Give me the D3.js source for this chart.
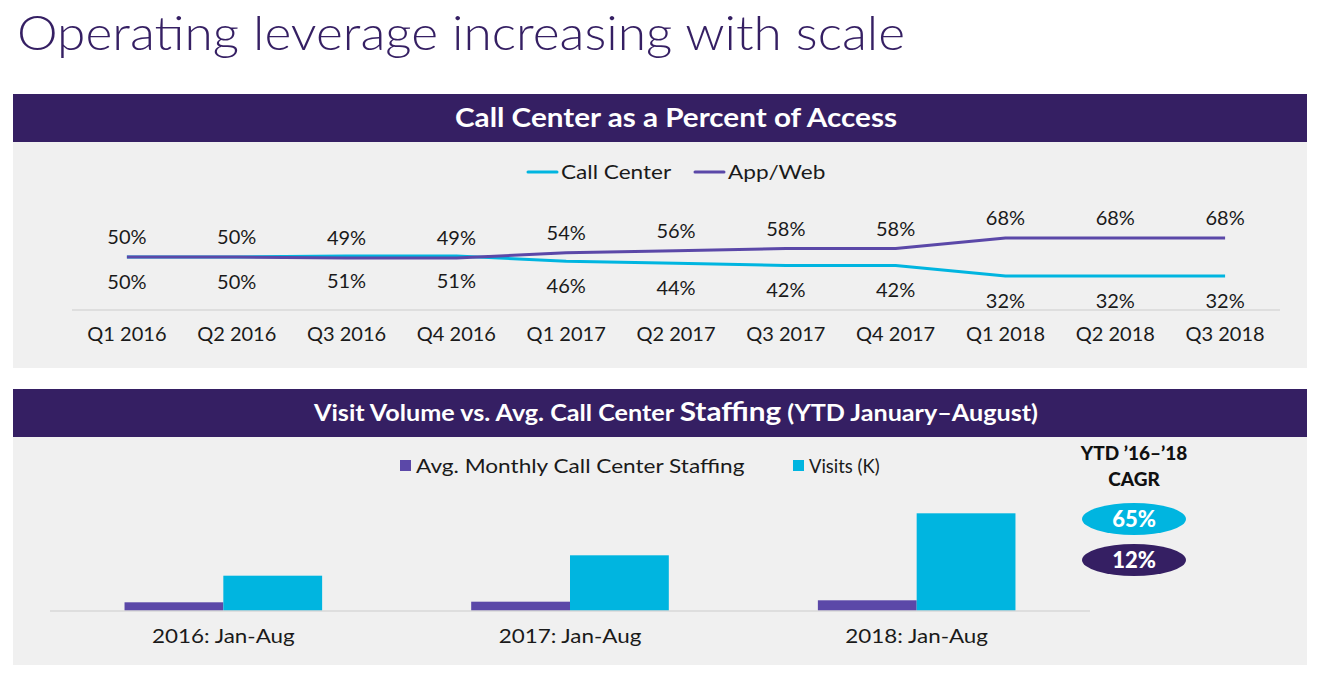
<!DOCTYPE html>
<html>
<head>
<meta charset="utf-8">
<script src="https://cdn.jsdelivr.net/npm/d3@7"></script>
<style>
  html, body { margin: 0; padding: 0; background: #ffffff; }
  svg { display: block; }
  text { font-family: Lato, "Open Sans", sans-serif; }
</style>
</head>
<body>
<svg id="chart" width="1320" height="675"></svg>
<script>
// ---- Data ----
const quarters = ["Q1 2016","Q2 2016","Q3 2016","Q4 2016","Q1 2017","Q2 2017","Q3 2017","Q4 2017","Q1 2018","Q2 2018","Q3 2018"];
const callCenter = [50,50,51,51,46,44,42,42,32,32,32];
const appWeb = [50,50,49,49,54,56,58,58,68,68,68];

const years = ["2016: Jan-Aug","2017: Jan-Aug","2018: Jan-Aug"];
const staffing = [87, 93, 107];
const visits = [353, 557, 977];

const cagrLabels = ["65%","12%"];
const barSeries = ["Avg. Monthly Call Center Staffing","Visits (K)"];
const lineSeries = ["Call Center","App/Web"];

// ---- Styles ----
const C_DARK = "#351F63";
const C_CYAN = "#00B5E0";
const C_PURPLE = "#5B48A8";
const C_BG = "#F0F0F0";
const C_AXIS = "#D9D9D9";
const C_TEXT = "#1a1a1a";

const svg = d3.select("#chart");

// stretch text (mimics the wider original typeface)
function widen(sel, factor) {
  sel.each(function() {
    const w = this.getComputedTextLength();
    d3.select(this).attr("textLength", w * factor).attr("lengthAdjust", "spacingAndGlyphs");
  });
}
function fitTo(sel, width) {
  sel.each(function() {
    d3.select(this).attr("textLength", width).attr("lengthAdjust", "spacingAndGlyphs");
  });
}

// Title
const title = svg.append("text")
  .attr("x", 17).attr("y", 50)
  .attr("fill", C_DARK)
  .style("font-weight", 300)
  .style("font-size", "48px")
  .text("Operating leverage increasing with scale");
fitTo(title, 888);

// Panels
function panel(y0, hh, y1, build) {
  svg.append("rect").attr("x", 13).attr("y", y0).attr("width", 1294).attr("height", hh).attr("fill", C_DARK);
  svg.append("rect").attr("x", 13).attr("y", y0 + hh).attr("width", 1294).attr("height", y1 - y0 - hh).attr("fill", C_BG);
  const t = svg.append("text").attr("x", 676).attr("y", y0 + hh / 2).attr("dy", "0.36em")
    .attr("text-anchor", "middle").attr("fill", "#fff").style("font-weight", 700);
  build(t);
}

panel(94, 48, 368, t => {
  t.style("font-size", "26px").text("Call Center as a Percent of Access");
  fitTo(t, 442);
});
panel(389, 48, 665, t => {
  t.style("font-size", "22px");
  t.append("tspan").text("Visit Volume vs. Avg. Call Center ");
  t.append("tspan").style("font-size", "26px").text("Staffing");
  t.append("tspan").text(" (YTD January\u2013August)");
  fitTo(t, 724);
});

// ---- Line chart ----
const x = d3.scaleBand().domain(quarters).range([72, 1280]);
const y = d3.scaleLinear().domain([0, 100]).range([310, 204]);
const cx = d => x(d) + x.bandwidth() / 2;

svg.append("line").attr("x1", 72).attr("x2", 1280).attr("y1", 310).attr("y2", 310)
  .attr("stroke", C_AXIS).attr("stroke-width", 1.5);

const xAxis = svg.append("g").attr("transform", "translate(0,310)")
  .call(d3.axisBottom(x).tickSize(0).tickPadding(17));
xAxis.select(".domain").remove();
xAxis.selectAll("text").style("font-size", "20px").attr("fill", C_TEXT)
  .style("font-family", "Lato, sans-serif");

const line = d3.line().x((d, i) => cx(quarters[i])).y(d => y(d));
svg.append("path").datum(callCenter).attr("d", line).attr("fill", "none")
  .attr("stroke", C_CYAN).attr("stroke-width", 3).attr("stroke-linejoin", "round");
svg.append("path").datum(appWeb).attr("d", line).attr("fill", "none")
  .attr("stroke", C_PURPLE).attr("stroke-width", 3).attr("stroke-linejoin", "round");

svg.append("g").selectAll("text").data(appWeb).join("text")
  .attr("x", (d, i) => cx(quarters[i])).attr("y", d => y(d) - 20).attr("dy", "0.35em")
  .attr("text-anchor", "middle").style("font-size", "20px").attr("fill", C_TEXT)
  .text(d => d + "%");
svg.append("g").selectAll("text").data(callCenter).join("text")
  .attr("x", (d, i) => cx(quarters[i])).attr("y", d => y(d) + 25).attr("dy", "0.35em")
  .attr("text-anchor", "middle").style("font-size", "20px").attr("fill", C_TEXT)
  .text(d => d + "%");

// Legend line chart
const lg1 = svg.append("g");
[[528, C_CYAN, lineSeries[0]], [695, C_PURPLE, lineSeries[1]]].forEach(([lx, col, lab]) => {
  lg1.append("line").attr("x1", lx).attr("x2", lx + 29).attr("y1", 172).attr("y2", 172)
    .attr("stroke", col).attr("stroke-width", 3).attr("stroke-linecap", "round");
  const t = lg1.append("text").attr("x", lx + 33).attr("y", 172).attr("dy", "0.35em")
    .style("font-size", "20px").attr("fill", C_TEXT).text(lab);
  widen(t, 1.13);
});

// ---- Bar chart ----
const x0 = d3.scaleBand().domain(years).range([50, 1090]).paddingInner(0.43).paddingOuter(0.215);
const x1 = d3.scaleBand().domain(barSeries).range([0, x0.bandwidth()]);
const y2 = d3.scaleLinear().domain([0, 1000]).range([611, 511]);
const barColors = [C_PURPLE, C_CYAN];

const groups = svg.append("g").selectAll("g").data(years).join("g")
  .attr("transform", d => `translate(${x0(d)},0)`);
groups.selectAll("rect").data((d, i) => [staffing[i], visits[i]]).join("rect")
  .attr("x", (d, j) => x1(barSeries[j]))
  .attr("width", x1.bandwidth())
  .attr("y", d => y2(d))
  .attr("height", d => y2(0) - y2(d))
  .attr("fill", (d, j) => barColors[j]);

svg.append("line").attr("x1", 50).attr("x2", 1090).attr("y1", 611).attr("y2", 611)
  .attr("stroke", C_AXIS).attr("stroke-width", 1.5);

const xAxis2 = svg.append("g").attr("transform", "translate(0,611)")
  .call(d3.axisBottom(x0).tickSize(0).tickPadding(18));
xAxis2.select(".domain").remove();
xAxis2.selectAll("text").style("font-size", "20px").attr("fill", C_TEXT)
  .style("font-family", "Lato, sans-serif");
widen(xAxis2.selectAll("text"), 1.12);

// Legend bar chart
const lg2 = svg.append("g");
[[400, C_PURPLE, barSeries[0], 1.13], [793, C_CYAN, barSeries[1], 0.92]].forEach(([lx, col, lab, f]) => {
  lg2.append("rect").attr("x", lx).attr("y", 460).attr("width", 11).attr("height", 11).attr("fill", col);
  const t = lg2.append("text").attr("x", lx + 16).attr("y", 465.5).attr("dy", "0.35em")
    .style("font-size", "20px").attr("fill", C_TEXT).text(lab);
  widen(t, f);
});

// CAGR side
svg.append("text").attr("x", 1134).attr("y", 453).attr("dy", "0.35em").attr("text-anchor", "middle")
  .style("font-size", "19px").style("font-weight", 900).attr("fill", "#111").text("YTD \u201916\u2013\u201918");
svg.append("text").attr("x", 1134).attr("y", 479).attr("dy", "0.35em").attr("text-anchor", "middle")
  .style("font-size", "19px").style("font-weight", 900).attr("fill", "#111").text("CAGR");
[[519, C_CYAN], [560, C_DARK]].forEach(([ey, col], i) => {
  svg.append("ellipse").attr("cx", 1134).attr("cy", ey).attr("rx", 52).attr("ry", 16).attr("fill", col);
  svg.append("text").attr("x", 1134).attr("y", ey).attr("dy", "0.36em").attr("text-anchor", "middle")
    .style("font-size", "22px").style("font-weight", 900).attr("fill", "#fff").text(cagrLabels[i]);
});
</script>
</body>
</html>
